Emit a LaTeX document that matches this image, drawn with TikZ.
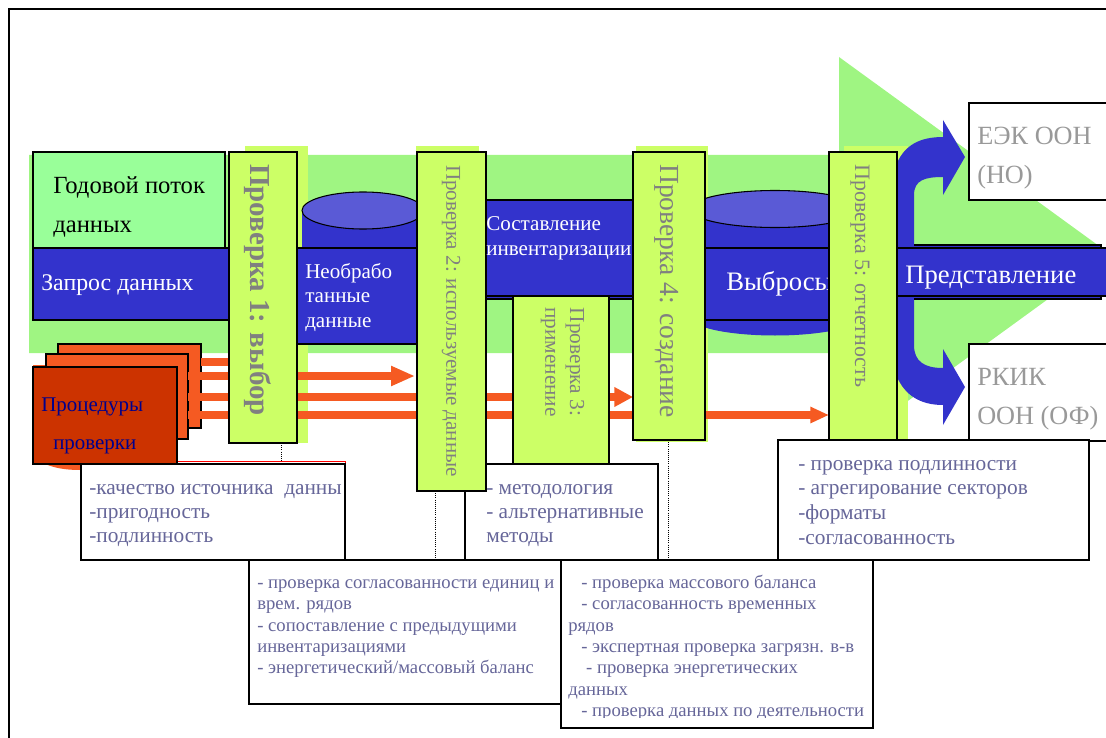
\documentclass[tikz,border=0pt]{standalone}
\usepackage{fontspec}
\setmainfont{Liberation Serif}
\usetikzlibrary{arrows.meta}
\definecolor{bandgreen}{HTML}{9FF582}
\definecolor{checkgreen}{HTML}{CCFF66}
\definecolor{yeargreen}{HTML}{99FF99}
\definecolor{boxblue}{HTML}{3333CC}
\definecolor{lidblue}{HTML}{5A5AD6}
\definecolor{sheetorange}{HTML}{F55A22}
\definecolor{sheetred}{HTML}{CC3300}
\definecolor{notegray}{HTML}{666699}
\tikzset{
  size/.style 2 args={minimum width=#1*0.75pt,minimum height=#2*0.75pt},
  plate/.style={draw=black,line width=1.5pt,anchor=north west,inner sep=0pt,outer sep=0pt},
  bluebox/.style={plate,fill=boxblue},
  checkbox/.style={plate,fill=checkgreen},
  notebox/.style={plate,fill=white},
  sheet/.style={plate,fill=sheetorange,line width=1pt},
  halo/.style={fill=checkgreen,anchor=north west,inner sep=0pt,outer sep=0pt},
  word/.style={anchor=base west,inner sep=0pt},
  lines/.style={anchor=north west,inner sep=0pt,align=left},
  checktext/.style={rotate=-90,inner sep=0pt,text=gray},
  notetext/.style={lines,text=notegray},
  flow/.style={draw=sheetorange,line width=6pt},
  flowtip/.style 2 args={flow,-{Triangle[length=#1,width=#2]}},
  tie/.style={densely dotted,line width=.6pt}
}
\begin{document}
\begin{tikzpicture}[x=0.75pt,y=-0.75pt]
  \useasboundingbox (0,0) rectangle (1106,738);
  % page frame
  \coordinate (framea) at (9,738);
  \coordinate (frameb) at (9,9);
  \coordinate (framec) at (1106,9);
  \draw[line width=1.5pt] (framea) -- (frameb) -- (framec);

  % big green arrow
  \fill[bandgreen] (29,155) -- (839,155) -- (839,57) -- (1110,254) -- (839,451) -- (839,353) -- (29,353) -- cycle;
  \node[halo,size={63}{297}] at (245,146) {};
  \node[halo,size={63}{345}] at (416,146) {};
  \node[halo,size={72}{296}] at (636,146) {};
  \node[halo,size={64}{294}] at (844,146) {};

  % drums
  \fill[boxblue] (302,210) rectangle (417,248);
  \draw[fill=lidblue,line width=.8pt] (363,210.5) ellipse (61 and 18.5);
  \fill[boxblue] (690,209) rectangle (860,317) (775,317) ellipse (85 and 18.5);
  \draw[line width=.8pt] (690,317) arc (180:360:85 and 18.5);
  \draw[fill=lidblue,line width=.8pt] (775,209) ellipse (85 and 18.5);

  % orange sheets
  \fill[sheetorange] (33,365) rectangle (80,460) (45,460) -- (80,460) -- (80,470) .. controls (65,470) and (55,468) .. (45,464) -- cycle;
  \node[sheet,size={143}{84}] (sheetback) at (58,344) {};
  \node[sheet,size={142}{85}] (sheetmid) at (46,354) {};

  % flows from the sheets
  \coordinate (flowa) at (229,362);
  \draw[flow] (sheetback.east |- flowa) -- (flowa);
  \coordinate (flowb) at (415,376);
  \draw[flowtip={18pt}{14pt}] (sheetmid.east |- flowb) -- (flowb);
  \coordinate (flowc) at (633,397);
  \draw[flowtip={14pt}{14pt}] (sheetmid.east |- flowc) -- (flowc);
  \coordinate (flowd) at (829,415);
  \draw[flowtip={14pt}{11.5pt}] (sheetmid.east |- flowd) -- (flowd);

  % outgoing arrows
  \fill[boxblue] (897,245) -- (897,163) .. controls (905,145) and (920,137) .. (943,137) -- (943,120) -- (965,157) -- (943,195) -- (943,177) .. controls (925,177) and (914,180) .. (914,195) -- (914,245) -- cycle;
  \fill[boxblue] (897,299) -- (897,377) .. controls (905,395) and (920,405) .. (943,405) -- (943,425) -- (965,387) -- (943,349) -- (943,368) .. controls (925,368) and (914,362) .. (914,345) -- (914,299) -- cycle;

  % report boxes
  \node[notebox,size={140}{97}] (unece) at (969,103) {};
  \node[notebox,size={140}{97}] (unfccc) at (969,344) {};
  \node[word,text=black!40,font=\fontsize{19.7}{19.7}\selectfont] (unecea) at (977,145) {ЕЭК ООН};
  \node[word,text=black!40,font=\fontsize{19.7}{19.7}\selectfont] (uneceb) at (977,184) {(НО)};
  \node[word,text=black!40,font=\fontsize{19.7}{19.7}\selectfont] (unfccca) at (977,385) {РКИК};
  \node[word,text=black!40,font=\fontsize{19.7}{19.7}\selectfont] (unfcccb) at (977,424) {ООН (ОФ)};

  % main row
  \node[plate,fill=yeargreen,size={192}{96}] (yearbox) at (33,152) {};
  \node[bluebox,size={196}{72}] (request) at (33,248) {};
  \node[bluebox,size={120}{96}] (rawdata) at (297,248) {};
  \fill[boxblue] (486,296) rectangle (633,299);
  \draw[line width=.8pt] (486,299) -- (633,299);
  \node[bluebox,size={147}{96}] (compile) at (486,200) {};
  \node[bluebox,size={124}{72}] (emission) at (705,248) {};
  \fill[boxblue] (897,245) rectangle (1101,299);
  \draw[line width=.8pt] (914,245) -- (1101,245) -- (1101,299) -- (914,299);
  \node[bluebox,size={215}{48}] (report) at (897,248) {};

  % notes, back row first
  \draw[red,line width=.6pt] (177,461) -- (345,461) -- (345,464);
  \node[notebox,size={264}{96}] (notea) at (81,464) {};
  \node[notebox,size={193}{96}] (notec) at (465,464) {};
  \node[notebox,size={311}{120}] (notee) at (778,440) {};
  \node[notebox,size={312}{144}] (noteb) at (249,560) {};
  \node[notebox,size={312}{168}] (noted) at (561,560) {};

  \node[sheet,fill=sheetred,line width=1.5pt,size={144}{97}] (sheetfront) at (33,367) {};

  % box texts, clipped ones come before the checks
  \node[word,text=white,font=\fontsize{20}{20}\selectfont] (emissiontext) at (726,290) {Выбросы};

  % checks
  \node[checkbox,size={68}{291}] (checka) at (229,152) {};
  \node[checkbox,size={69}{339}] (checkb) at (417,152) {};
  \node[checkbox,size={96}{168}] (checkc) at (513,296) {};
  \node[checkbox,size={72}{288}] (checkd) at (633,152) {};
  \node[checkbox,size={68}{288}] (checke) at (829,152) {};

  % dotted ties
  \coordinate (tiea) at (281,461);
  \draw[tie] (tiea |- checka.south) -- (tiea);
  \coordinate (tieb) at (435,560);
  \draw[tie] (tieb |- checkb.south) -- (tieb);
  \coordinate (tied) at (668,560);
  \draw[tie] (tied |- checkd.south) -- (tied);

  % box texts
  \node[word,font=\fontsize{18.5}{18.5}\selectfont] (yeara) at (53,194) {Годовой поток};
  \node[word,font=\fontsize{18.5}{18.5}\selectfont] (yearb) at (53,232) {данных};
  \node[word,text=white,font=\fontsize{17.9}{17.9}\selectfont] (requesttext) at (41,290) {Запрос данных};
  \node[lines,text=white,font=\fontsize{15.8}{18.4}\selectfont] (rawtext) at (305,263) {Необрабо\\танные\\данные};
  \node[lines,text=white,font=\fontsize{15.8}{19}\selectfont] (compiletext) at (486,216) {Составление\\инвентаризации};
  \node[word,text=white,font=\fontsize{20}{20}\selectfont] (reporttext) at (905,283) {Представление};
  \node[word,text={rgb,255:red,0;green,0;blue,140},font=\fontsize{15.7}{15.7}\selectfont] (procedurea) at (41,411) {Процедуры};
  \node[word,text={rgb,255:red,0;green,0;blue,140},font=\fontsize{15.7}{15.7}\selectfont] (procedureb) at (53,449) {проверки};

  % rotated texts
  \node[checktext,font=\bfseries\fontsize{21.7}{21.7}\selectfont] (checkatext) at (258,290) {Проверка 1: выбор};
  \node[checktext,font=\fontsize{15.8}{15.8}\selectfont] (checkbtext) at (451,321) {Проверка 2: используемые данные};
  \node[checktext,font=\fontsize{16}{16}\selectfont] (checkctext) at (575,362) {Проверка 3:};
  \node[checktext,font=\fontsize{16}{16}\selectfont] (checkctextb) at (548,362) {применение};
  \node[checktext,font=\fontsize{20.7}{20.7}\selectfont] (checkdtext) at (667,291) {Проверка 4: создание};
  \node[checktext,font=\fontsize{16.5}{16.5}\selectfont] (checketext) at (860,276) {Проверка 5: отчетность};

  % note texts
  \node[notetext,font=\fontsize{16}{18}\selectfont] (noteatext) at (89,484) {-качество источника~~данны\\-пригодность\\-подлинность};
  \node[notetext,font=\fontsize{16}{18}\selectfont] (notectext) at (486,484) {- методология\\- альтернативные\\методы};
  \node[notetext,font=\fontsize{16}{18.5}\selectfont] (noteetext) at (798,460) {- проверка подлинности\\- агрегирование секторов\\-форматы\\-согласованность};
  \node[notetext,font=\fontsize{14}{16}\selectfont] (notebtext) at (257,579.5) {- проверка согласованности единиц и\\врем. рядов\\- сопоставление с предыдущими\\инвентаризациями\\- энергетический/массовый баланс};
  \begin{scope}
    \clip (561,560) rectangle (873,717);
    \node[notetext,font=\fontsize{14}{16}\selectfont] (notedtext) at (568,575) {\hspace*{.7em}- проверка массового баланса\\\hspace*{.7em}- согласованность временных\\рядов\\\hspace*{.7em}- экспертная проверка загрязн. в-в\\\hspace*{.96em}- проверка энергетических\\данных\\\hspace*{.7em}- проверка данных по деятельности};
  \end{scope}
\end{tikzpicture}
\end{document}
